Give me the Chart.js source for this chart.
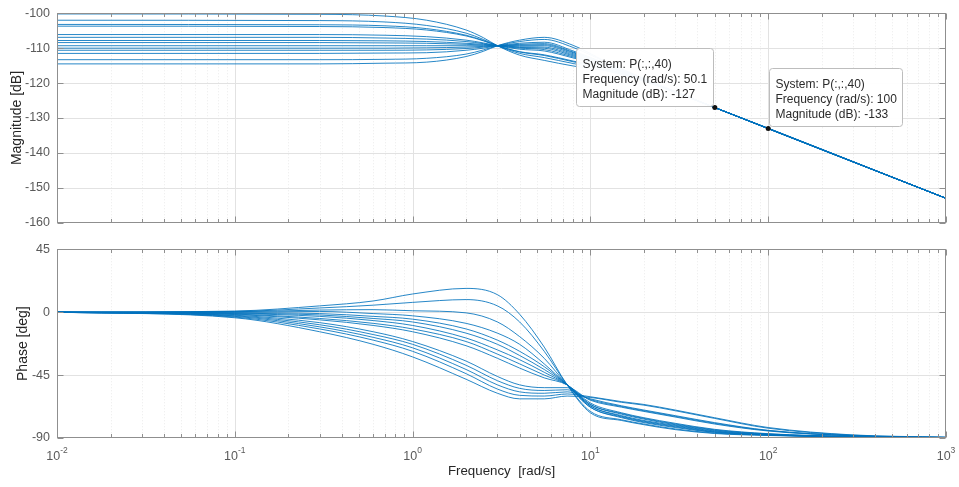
<!DOCTYPE html>
<html>
<head>
<meta charset="utf-8">
<script src="https://cdn.jsdelivr.net/npm/chart.js@4.4.1/dist/chart.umd.min.js"></script>
<style>
  html, body { margin: 0; padding: 0; background: #fff; }
  #wrap { position: relative; width: 959px; height: 487px; }
  #mag { position: absolute; left: 0; top: 0; }
  #phase { position: absolute; left: 0; top: 236px; }
</style>
</head>
<body>
<div id="wrap">
  <canvas id="mag" width="959" height="236"></canvas>
  <canvas id="phase" width="959" height="251"></canvas>
</div>
<script>
const freqMag = [0.01, 0.3, 0.7, 1.2, 2, 2.5, 3, 4, 5.5, 8, 12, 20, 50, 1000];
// one row per system, dB
const magnitudes = [
  [-100.2, -100.3, -100.8, -102.0, -104.8, -107.0, -109.3, -112.0, -113.5, -115.1, -116.4, -119.5, -127, -153],
  [-102.0, -102.1, -102.5, -103.5, -105.7, -107.5, -109.3, -111.5, -112.7, -114.4, -116.1, -119.4, -127, -153],
  [-103.2, -103.3, -103.6, -104.4, -106.3, -107.8, -109.3, -111.1, -112.1, -113.9, -115.8, -119.3, -127, -153],
  [-103.7, -103.8, -104.1, -104.8, -106.5, -107.9, -109.3, -111.0, -111.9, -113.7, -115.7, -119.3, -127, -153],
  [-106.1, -106.1, -106.3, -106.7, -107.7, -108.5, -109.3, -110.3, -110.8, -112.8, -115.2, -119.2, -127, -153],
  [-106.9, -106.9, -107.1, -107.4, -108.1, -108.7, -109.3, -110.0, -110.4, -112.5, -115.1, -119.1, -127, -153],
  [-107.8, -107.8, -107.9, -108.1, -108.6, -108.9, -109.3, -109.8, -110.0, -112.2, -114.9, -119.1, -127, -153],
  [-108.4, -108.4, -108.5, -108.6, -108.9, -109.1, -109.3, -109.6, -109.7, -111.9, -114.8, -119.0, -127, -153],
  [-109.3, -109.3, -109.3, -109.3, -109.3, -109.3, -109.3, -109.3, -109.3, -111.6, -114.6, -119.0, -127, -153],
  [-110.0, -110.0, -110.0, -109.9, -109.7, -109.5, -109.3, -109.1, -109.0, -111.3, -114.5, -119.0, -127, -153],
  [-110.6, -110.6, -110.6, -110.5, -110.1, -109.7, -109.3, -108.9, -108.7, -111.1, -114.3, -118.9, -127, -153],
  [-111.5, -111.5, -111.4, -111.3, -110.6, -110.0, -109.3, -108.6, -108.3, -110.8, -114.2, -118.9, -127, -153],
  [-113.3, -113.3, -113.2, -112.9, -111.7, -110.5, -109.3, -108.1, -107.5, -109.8, -113.8, -118.8, -127, -153],
  [-114.5, -114.5, -114.3, -114.0, -112.4, -110.9, -109.3, -107.7, -106.9, -109.2, -113.6, -118.7, -127, -153]
];

const freqPhase = [0.01, 0.1, 0.3, 0.6, 1, 2, 3, 4, 5.5, 7.4, 10, 15, 20, 30, 50, 100, 300, 1000];
// one row per system, degrees
const phases = [
  [0, 0.8, 4.5, 8, 13, 17, 12.5, -1.5, -25, -52, -72, -77.5, -80.5, -84, -86.8, -88.2, -89.4, -89.9],
  [0, 0.5, 3, 5, 7, 9, 4.5, -7, -28, -52, -71, -77, -80, -83.5, -86.5, -88, -89.3, -89.9],
  [0, 0.3, 1.5, 1.8, 1.0, -0.5, -7, -17.5, -33, -52, -68, -75.5, -79, -82.5, -86, -87.9, -89.2, -89.9],
  [0, 0, 0.5, -1, -2.6, -8, -15, -23, -37, -52, -68, -75, -78.5, -82, -85.7, -87.8, -89.2, -89.9],
  [0, -0.4, -1, -3, -5, -12, -20, -28, -39, -52, -67, -74.5, -78, -81.5, -85.4, -87.7, -89.2, -89.9],
  [0, -0.7, -2, -4.5, -7, -15, -23, -31, -41, -52, -67, -74, -77.5, -81, -85, -87.5, -89.1, -89.9],
  [0, -1, -3, -6, -9.5, -18.5, -27, -34, -43, -52, -66, -73, -76.5, -80.5, -84.6, -87.3, -89.1, -89.8],
  [0, -1.4, -4.5, -8, -12, -21, -30, -37, -45, -52, -66, -72.5, -76, -80, -84.2, -87.1, -89, -89.8],
  [0, -1.7, -5.5, -9.5, -14, -24, -33, -40, -47, -52, -65, -72, -75.5, -79.5, -83.8, -86.9, -89, -89.8],
  [0, -2.2, -7.5, -14, -21, -35, -46, -52, -54, -54, -63, -68, -71, -75, -80, -85, -88.5, -89.6],
  [0, -2.6, -9, -16, -23, -38, -49, -54.5, -56, -55.5, -62.5, -67.5, -70.5, -74.5, -79.5, -84.7, -88.4, -89.6],
  [0, -3, -10.5, -18, -25.5, -41, -52, -57, -58, -57, -62, -67, -70, -74, -79, -84.5, -88.3, -89.6],
  [0, -3.5, -12, -20, -28, -44, -55, -59.5, -60, -58.5, -60.5, -64, -66, -70, -75.5, -82.5, -87.8, -89.4],
  [0, -4, -14, -23, -32, -48, -58, -62, -62, -60, -61, -64.5, -66.5, -70.5, -76, -83, -88, -89.5]
];

const magTicks = [-160, -150, -140, -130, -120, -110, -100];
const phaseTicks = [-90, -45, 0, 45];
const decades = [0.01, 0.1, 1, 10, 100, 1000];
const decadeLabels = [["10", "-2"], ["10", "-1"], ["10", "0"], ["10", "1"], ["10", "2"], ["10", "3"]];

// data tips on the magnitude plot
const datatips = [
  { system: "P(:,:,40)", freq: 50.1, mag: -127, side: "left" },
  { system: "P(:,:,40)", freq: 100, mag: -133, side: "right" }
];

const FONT = "'Liberation Sans', Arial, Helvetica, sans-serif";
const LINE = "rgba(0,114,189,0.85)";
const AXIS = "#8f8f8f";
const GRID = "#e2e2e2";
const MINOR = "#ebebeb";
const TICK_TEXT = "#5a5a5a";
const TITLE = "#262626";

Chart.defaults.font.family = FONT;
Chart.defaults.color = TICK_TEXT;

function isDecade(v) {
  const l = Math.log10(v);
  return Math.abs(l - Math.round(l)) < 1e-9;
}

// 1..9 x 10^k ticks, like matlab's minor log grid
function logTicks() {
  const out = [];
  for (let k = -2; k <= 2; k++) {
    for (let m = 1; m <= 9; m++) out.push(+(m * Math.pow(10, k)).toPrecision(6));
  }
  out.push(1000);
  return out;
}

// grid, box and inward ticks
const axesBox = {
  id: "axesBox",
  beforeDatasetsDraw(chart) {
    const { ctx, chartArea: a, scales: { x, y } } = chart;
    ctx.save();
    ctx.lineWidth = 1;
    x.ticks.forEach(t => {
      const px = Math.round(x.getPixelForValue(t.value)) + 0.5;
      if (px < a.left + 1 || px > a.right - 1) return;
      const major = isDecade(t.value);
      ctx.strokeStyle = major ? GRID : MINOR;
      ctx.setLineDash(major ? [] : [1, 2]);
      ctx.beginPath();
      ctx.moveTo(px, a.top);
      ctx.lineTo(px, a.bottom);
      ctx.stroke();
    });
    ctx.setLineDash([]);
    ctx.strokeStyle = GRID;
    y.ticks.forEach(t => {
      const py = Math.round(y.getPixelForValue(t.value)) + 0.5;
      if (py < a.top + 1 || py > a.bottom - 1) return;
      ctx.beginPath();
      ctx.moveTo(a.left, py);
      ctx.lineTo(a.right, py);
      ctx.stroke();
    });
    ctx.restore();
  },
  afterDatasetsDraw(chart) {
    const { ctx, chartArea: a, scales: { x, y } } = chart;
    ctx.save();
    ctx.strokeStyle = AXIS;
    ctx.lineWidth = 1;
    const L = Math.round(a.left) + 0.5, R = Math.round(a.right) - 0.5;
    const T = Math.round(a.top) + 0.5, B = Math.round(a.bottom) - 0.5;
    ctx.strokeRect(L, T, R - L, B - T);
    ctx.beginPath();
    x.ticks.forEach(t => {
      const px = Math.round(x.getPixelForValue(t.value)) + 0.5;
      const len = isDecade(t.value) ? 6 : 3.5;
      ctx.moveTo(px, T); ctx.lineTo(px, T + len);
      ctx.moveTo(px, B); ctx.lineTo(px, B - len);
    });
    y.ticks.forEach(t => {
      const py = Math.round(y.getPixelForValue(t.value)) + 0.5;
      ctx.moveTo(L, py); ctx.lineTo(L + 6, py);
      ctx.moveTo(R, py); ctx.lineTo(R - 6, py);
    });
    ctx.stroke();
    ctx.restore();
  }
};

const datatipBoxes = {
  id: "datatipBoxes",
  afterDatasetsDraw(chart) {
    const { ctx, scales: { x, y } } = chart;
    ctx.save();
    ctx.font = "12px " + FONT;
    datatips.forEach(d => {
      const lines = ["System: " + d.system, "Frequency (rad/s): " + d.freq, "Magnitude (dB): " + d.mag];
      const w = Math.round(Math.max(...lines.map(l => ctx.measureText(l).width)) + 12);
      const h = 58;
      const mx = x.getPixelForValue(d.freq), my = y.getPixelForValue(d.mag);
      const left = Math.round(d.side === "left" ? mx - 2 - w : mx + 1) + 0.5;
      const top = Math.round(my - 2 - h) + 0.5;
      ctx.beginPath();
      ctx.roundRect(left, top, w, h, 3);
      ctx.fillStyle = "rgba(255,255,255,0.97)";
      ctx.fill();
      ctx.strokeStyle = "#bdbdbd";
      ctx.lineWidth = 1;
      ctx.stroke();
      ctx.fillStyle = "#2b2b2b";
      ctx.textBaseline = "middle";
      lines.forEach((l, i) => ctx.fillText(l, left + 6, top + 16 + i * 15.3));
    });
    ctx.restore();
  }
};

const decadeTickLabels = {
  id: "decadeTickLabels",
  afterDraw(chart) {
    const { ctx, chartArea: a, scales: { x } } = chart;
    ctx.save();
    ctx.fillStyle = TICK_TEXT;
    ctx.textBaseline = "alphabetic";
    decades.forEach((v, i) => {
      const [base, exp] = decadeLabels[i];
      ctx.font = "12.5px " + FONT;
      const wb = ctx.measureText(base).width;
      ctx.font = "8.5px " + FONT;
      const we = ctx.measureText(exp).width;
      const x0 = x.getPixelForValue(v) - (wb + we) / 2;
      ctx.font = "12.5px " + FONT;
      ctx.fillText(base, x0, a.bottom + 22);
      ctx.font = "8.5px " + FONT;
      ctx.fillText(exp, x0 + wb, a.bottom + 14.7);
    });
    ctx.restore();
  }
};

function lineSets(freqs, rows) {
  return rows.map(row => ({
    data: freqs.map((f, i) => ({ x: f, y: row[i] })),
    borderColor: LINE,
    borderWidth: 1,
    pointRadius: 0,
    cubicInterpolationMode: "monotone",
    order: 1
  }));
}

function xScale(height, title) {
  return {
    type: "logarithmic",
    min: 0.01,
    max: 1000,
    grid: { display: false, drawTicks: false },
    border: { display: false },
    ticks: { display: false },
    title: title,
    afterBuildTicks: s => { s.ticks = logTicks().map(v => ({ value: v })); },
    afterFit: s => { s.height = height; }
  };
}

function yScale(min, max, ticks, text, titlePad) {
  return {
    type: "linear",
    min: min,
    max: max,
    grid: { display: false, drawTicks: false },
    border: { display: false },
    afterBuildTicks: s => { s.ticks = ticks.map(v => ({ value: v })); },
    ticks: { padding: 7, color: TICK_TEXT, font: { size: 12.5, lineHeight: 1 } },
    title: { display: true, text: text, color: TITLE, font: { size: 14 }, padding: { top: titlePad, bottom: 0 } },
    afterFit: s => { s.width = 57; }
  };
}

const common = {
  responsive: false,
  animation: false,
  events: [],
  plugins: { legend: { display: false }, tooltip: { enabled: false } }
};

const tipMarkers = {
  data: datatips.map(d => ({ x: d.freq, y: d.mag })),
  showLine: false,
  pointRadius: 2.5,
  pointBackgroundColor: "#111",
  pointBorderColor: "#111",
  pointBorderWidth: 0,
  order: 0
};

new Chart(document.getElementById("mag"), {
  type: "line",
  data: { datasets: [tipMarkers].concat(lineSets(freqMag, magnitudes)) },
  options: Object.assign({}, common, {
    layout: { padding: { top: 7, right: 13, bottom: 0, left: 0 } },
    scales: {
      x: xScale(7, { display: false }),
      y: yScale(-160, -100, magTicks, "Magnitude [dB]", 8.5)
    }
  }),
  plugins: [axesBox, datatipBoxes]
});

new Chart(document.getElementById("phase"), {
  type: "line",
  data: { datasets: lineSets(freqPhase, phases) },
  options: Object.assign({}, common, {
    layout: { padding: { top: 7, right: 13, bottom: 0, left: 0 } },
    scales: {
      x: xScale(49, { display: true, text: "Frequency  [rad/s]", color: TITLE, font: { size: 13.3 }, padding: { top: 0, bottom: 8 } }),
      y: yScale(-90, 45, phaseTicks, "Phase [deg]", 15)
    }
  }),
  plugins: [axesBox, decadeTickLabels]
});
</script>
</body>
</html>
